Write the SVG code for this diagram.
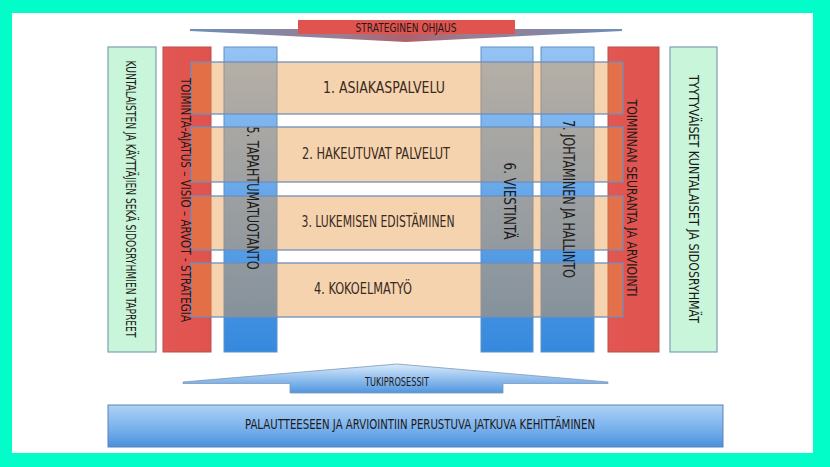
<svg xmlns="http://www.w3.org/2000/svg" width="830" height="467" viewBox="0 0 830 467">
<defs>
<linearGradient id="gBlueCol" x1="0" y1="0" x2="0" y2="1">
<stop offset="0" stop-color="#95c3f3"/>
<stop offset="1" stop-color="#3589de"/>
</linearGradient>
<linearGradient id="gRed" x1="0" y1="0" x2="1" y2="0">
<stop offset="0" stop-color="#e25753"/>
<stop offset="1" stop-color="#e0524e"/>
</linearGradient>
<linearGradient id="gTuki" x1="0" y1="0" x2="0" y2="1">
<stop offset="0" stop-color="#d9eafb"/>
<stop offset="1" stop-color="#4f96e0"/>
</linearGradient>
<linearGradient id="gBottom" x1="0" y1="0" x2="0" y2="1">
<stop offset="0" stop-color="#aed1f6"/>
<stop offset="0.5" stop-color="#7fb5ee"/>
<stop offset="1" stop-color="#4a90dc"/>
</linearGradient>
<linearGradient id="gWing" x1="0" y1="0" x2="1" y2="0">
<stop offset="0" stop-color="#6f8fb5"/>
<stop offset="0.35" stop-color="#9a7e92"/>
<stop offset="0.5" stop-color="#b0606a"/>
<stop offset="0.65" stop-color="#9a7e92"/>
<stop offset="1" stop-color="#6f8fb5"/>
</linearGradient>
<style>
.t{font-family:"Liberation Sans Narrow","DejaVu Sans Condensed","Liberation Sans",sans-serif;fill:#1e1a18;}
.c{text-anchor:middle;dominant-baseline:central;}
.green{fill:#c9f6da;stroke:#7f9fb2;stroke-width:1.2;}
.red{fill:url(#gRed);stroke:#b5504d;stroke-width:1;}
.blue{fill:url(#gBlueCol);stroke:#5f90c8;stroke-width:1;}
.bar{fill:rgb(232,150,62);fill-opacity:0.42;stroke:#6f8fbc;stroke-width:1.3;}
.barlbl{font-size:15.5px;fill:#3a2a1e;}
</style>
</defs>
<rect x="0" y="0" width="830" height="467" fill="#03fdc9"/>
<rect x="12" y="13" width="801" height="440" fill="#ffffff"/>

<g id="strateginen-ohjaus">
<polygon points="190,29 622,29 622,31 406,42 190,31" fill="url(#gWing)"/>
<rect x="298" y="20" width="217" height="14" fill="#e05450"/>
<text class="t c" x="406" y="28" font-size="12" textLength="101" lengthAdjust="spacingAndGlyphs">STRATEGINEN OHJAUS</text>
</g>

<g id="kuntalaisten-tarpeet">
<rect class="green" x="108" y="47" width="48" height="305"/>
<text class="t c" transform="translate(131,199) rotate(90)" font-size="13.5" textLength="277" lengthAdjust="spacingAndGlyphs">KUNTALAISTEN JA KÄYTTÄJIEN SEKÄ SIDOSRYHMIEN TAPREET</text>
</g>

<g id="toiminta-ajatus">
<rect class="red" x="163" y="47" width="48" height="305"/>
</g>

<g id="tapahtumatuotanto">
<rect class="blue" x="224" y="47" width="53" height="305"/>
</g>

<g id="viestinta">
<rect class="blue" x="481" y="47" width="52" height="305"/>
</g>

<g id="johtaminen">
<rect class="blue" x="541" y="47" width="53" height="305"/>
</g>

<g id="seuranta">
<rect class="red" x="608" y="47" width="51" height="305"/>
</g>

<g id="tyytyvaiset">
<rect class="green" x="670" y="47" width="47" height="305"/>
<text class="t c" transform="translate(694,199) rotate(90)" font-size="13.5" textLength="248" lengthAdjust="spacingAndGlyphs">TYYTYVÄISET KUNTALAISET JA SIDOSRYHMÄT</text>
</g>

<g id="asiakaspalvelu">
<rect class="bar" x="191" y="62" width="432" height="52"/>
<text class="t c barlbl" x="384" y="88" textLength="122" lengthAdjust="spacingAndGlyphs">1. ASIAKASPALVELU</text>
</g>
<g id="hakeutuvat-palvelut">
<rect class="bar" x="191" y="127" width="432" height="55"/>
<text class="t c barlbl" x="376" y="154" textLength="148" lengthAdjust="spacingAndGlyphs">2. HAKEUTUVAT PALVELUT</text>
</g>
<g id="lukemisen-edistaminen">
<rect class="bar" x="191" y="196" width="432" height="54"/>
<text class="t c barlbl" x="378" y="222" textLength="153" lengthAdjust="spacingAndGlyphs">3. LUKEMISEN EDISTÄMINEN</text>
</g>
<g id="kokoelmatyo">
<rect class="bar" x="191" y="263" width="432" height="54"/>
<text class="t c barlbl" x="363" y="289" textLength="98" lengthAdjust="spacingAndGlyphs">4. KOKOELMATYÖ</text>
</g>

<g id="column-labels">
<text class="t c" transform="translate(186,200) rotate(90)" font-size="14" textLength="244" lengthAdjust="spacingAndGlyphs">TOIMINTA-AJATUS – VISIO – ARVOT - STRATEGIA</text>
<text class="t c" transform="translate(252,198) rotate(90)" font-size="16" textLength="143" lengthAdjust="spacingAndGlyphs">5. TAPAHTUMATUOTANTO</text>
<text class="t c" transform="translate(509,201) rotate(90)" font-size="15" textLength="77" lengthAdjust="spacingAndGlyphs">6. VIESTINTÄ</text>
<text class="t c" transform="translate(568,199) rotate(90)" font-size="15.5" textLength="158" lengthAdjust="spacingAndGlyphs">7. JOHTAMINEN JA HALLINTO</text>
<text class="t c" transform="translate(632,198) rotate(90)" font-size="14" textLength="197" lengthAdjust="spacingAndGlyphs">TOIMINNAN SEURANTA JA ARVIOINTI</text>
</g>

<g id="tukiprosessit">
<polygon points="183,382 397,364 608,382 608,383.5 503,383.5 503,393 290,393 290,383.5 183,383.5" fill="url(#gTuki)" stroke="#7d98b8" stroke-width="0.8"/>
<text class="t c" x="397" y="381" font-size="12.5" textLength="64" lengthAdjust="spacingAndGlyphs">TUKIPROSESSIT</text>
</g>

<g id="jatkuva-kehittaminen">
<rect x="108" y="405" width="615" height="42" fill="url(#gBottom)" stroke="#5a84b8" stroke-width="1"/>
<text class="t c" x="420" y="424" font-size="14" textLength="350" lengthAdjust="spacingAndGlyphs">PALAUTTEESEEN JA ARVIOINTIIN PERUSTUVA JATKUVA KEHITTÄMINEN</text>
</g>

<g id="connectors"/>
</svg>
